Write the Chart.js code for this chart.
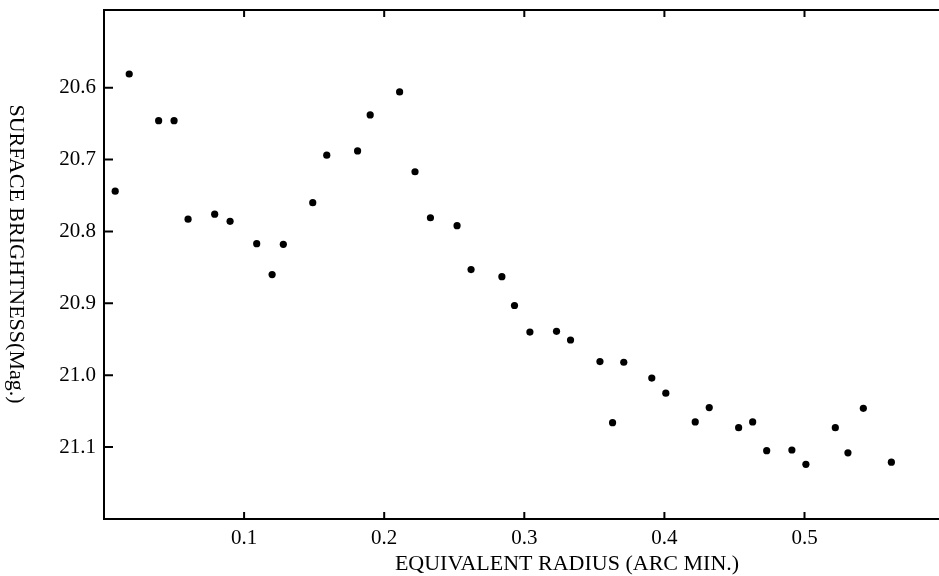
<!DOCTYPE html>
<html>
<head>
<meta charset="utf-8">
<script src="https://cdn.jsdelivr.net/npm/chart.js@4/dist/chart.umd.min.js"></script>
<style>
  html, body { margin: 0; padding: 0; background: #fff; overflow: hidden; }
  #chart { display: block; }
</style>
</head>
<body>
<canvas id="chart" width="939" height="576"></canvas>
<script>
// Surface brightness profile
const radius = [
    0.008, 0.018, 0.039, 0.050, 0.060, 0.079, 0.090, 0.109, 0.120, 0.128,
    0.149, 0.159, 0.181, 0.190, 0.211, 0.222, 0.233, 0.252, 0.262, 0.284,
    0.293, 0.304, 0.323, 0.333, 0.354, 0.363, 0.371, 0.391, 0.401, 0.422,
    0.432, 0.453, 0.463, 0.473, 0.491, 0.501, 0.522, 0.531, 0.542, 0.562
];
const brightness = [
    20.744, 20.581, 20.646, 20.646, 20.783, 20.776, 20.786, 20.817, 20.860, 20.818,
    20.760, 20.694, 20.688, 20.638, 20.606, 20.717, 20.781, 20.792, 20.853, 20.863,
    20.903, 20.940, 20.939, 20.951, 20.981, 21.066, 20.982, 21.004, 21.025, 21.065,
    21.045, 21.073, 21.065, 21.105, 21.104, 21.124, 21.073, 21.108, 21.046, 21.121
];
const xTicks = [0.1, 0.2, 0.3, 0.4, 0.5];
const yTicks = [20.6, 20.7, 20.8, 20.9, 21.0, 21.1];

const xTitle = 'EQUIVALENT RADIUS (ARC MIN.)';
const yTitle = 'SURFACE BRIGHTNESS(Mag.)';

Chart.defaults.font.family = "'Liberation Serif', 'Times New Roman', serif";
Chart.defaults.color = '#000';

// top frame line, inward tick marks and the two axis titles
const framePlugin = {
    id: 'frame',
    afterDraw(chart) {
        const ctx = chart.ctx;
        const area = chart.chartArea;
        const x = chart.scales.x;
        const y = chart.scales.y;
        ctx.save();
        ctx.strokeStyle = '#000';
        ctx.lineWidth = 2;

        ctx.beginPath();
        ctx.moveTo(area.left, area.top);
        ctx.lineTo(area.right, area.top);
        ctx.stroke();

        ctx.beginPath();
        yTicks.forEach(v => {
            const py = y.getPixelForValue(v);
            ctx.moveTo(area.left, py);
            ctx.lineTo(area.left + 9, py);
        });
        xTicks.forEach(v => {
            const px = x.getPixelForValue(v);
            ctx.moveTo(px, area.bottom);
            ctx.lineTo(px, area.bottom - 7);
            ctx.moveTo(px, area.top);
            ctx.lineTo(px, area.top + 7);
        });
        ctx.stroke();

        ctx.fillStyle = '#000';
        ctx.font = "22px 'Liberation Serif', serif";
        ctx.textAlign = 'center';
        ctx.textBaseline = 'alphabetic';
        ctx.fillText(xTitle, 567, 570);

        ctx.translate(10, 254);
        ctx.rotate(Math.PI / 2);
        ctx.font = "22px 'Liberation Serif', serif";
        ctx.fillText(yTitle, 0, 0);
        ctx.restore();
    }
};

new Chart(document.getElementById('chart').getContext('2d'), {
    type: 'scatter',
    data: {
        datasets: [{
            data: radius.map((r, i) => ({ x: r, y: brightness[i] })),
            backgroundColor: '#000',
            borderColor: '#000',
            pointRadius: 3.6,
            borderWidth: 0
        }]
    },
    options: {
        responsive: false,
        animation: false,
        devicePixelRatio: 1,
        layout: {
            autoPadding: false,
            padding: { top: 10, right: 0, left: 0, bottom: 0 }
        },
        scales: {
            x: {
                type: 'linear',
                min: 0,
                max: 0.596,
                afterFit: scale => {
                    scale.height = 57;
                    scale.paddingLeft = 0;
                    scale.paddingRight = 0;
                },
                afterBuildTicks: scale => { scale.ticks = xTicks.map(v => ({ value: v })); },
                grid: { display: false, drawTicks: false },
                border: { display: true, color: '#000', width: 2 },
                ticks: {
                    padding: 7,
                    font: { size: 21 },
                    callback: v => v.toFixed(1)
                }
            },
            y: {
                type: 'linear',
                reverse: true,
                min: 20.492,
                max: 21.2,
                afterFit: scale => {
                    scale.width = 104;
                    scale.paddingTop = 0;
                    scale.paddingBottom = 0;
                },
                afterBuildTicks: scale => { scale.ticks = yTicks.map(v => ({ value: v })); },
                grid: { display: false, drawTicks: false },
                border: { display: true, color: '#000', width: 2 },
                ticks: {
                    padding: 8,
                    font: { size: 21 },
                    callback: v => v.toFixed(1)
                }
            }
        },
        plugins: {
            legend: { display: false },
            tooltip: { enabled: false }
        }
    },
    plugins: [framePlugin]
});
</script>
</body>
</html>
